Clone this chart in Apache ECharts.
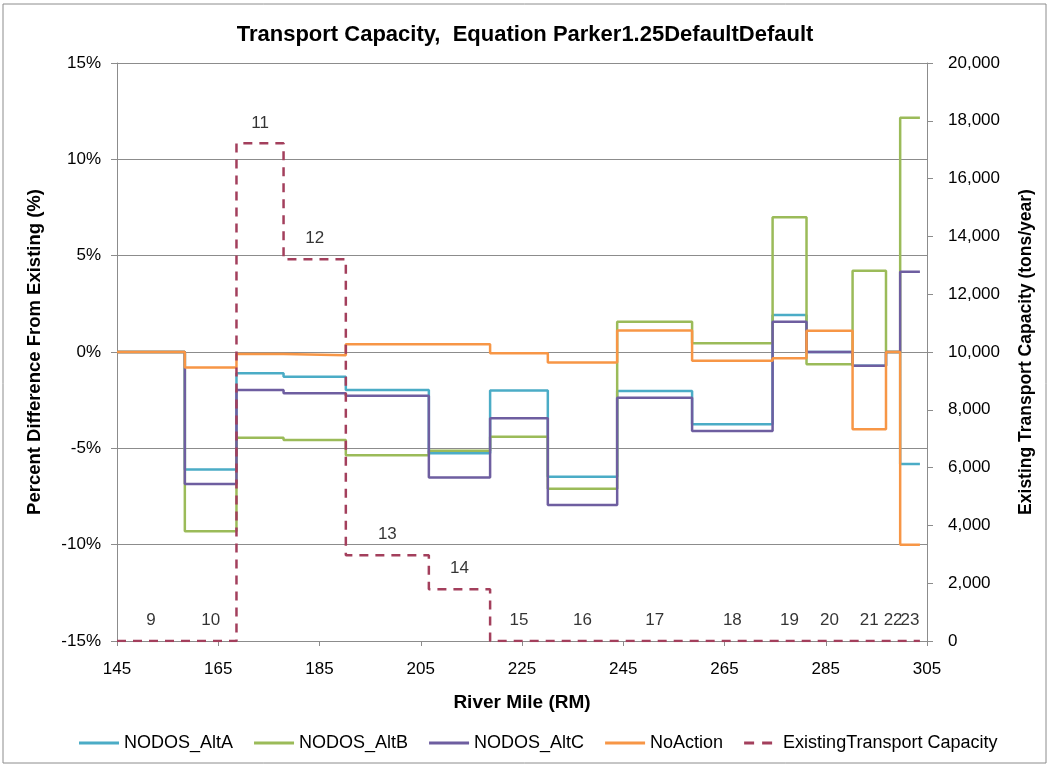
<!DOCTYPE html>
<html>
<head>
<meta charset="utf-8">
<script src="https://cdn.jsdelivr.net/npm/echarts@6/dist/echarts.min.js"></script>
<style>
  html, body { margin: 0; padding: 0; background: #fff; }
  #chart { width: 1050px; height: 766px; }
</style>
</head>
<body>
<div id="chart"></div>
<script>
// segment boundaries along the river (RM), one more than nodes
const boundaries = [145, 158.4, 168.6, 177.9, 190.2, 206.6, 218.7, 230.1, 243.8, 258.6, 274.5, 281.2, 290.3, 296.9, 299.7, 303.6]
const nodes = ['9', '10', '11', '12', '13', '14', '15', '16', '17', '18', '19', '20', '21', '22', '23']

// percent difference from existing, per node
const altA = [0, -6.1, -1.1, -1.28, -1.97, -5.26, -2.0, -6.47, -2.02, -3.75, 1.92, 0, -0.71, 0, -5.81]
const altB = [0, -9.3, -4.45, -4.57, -5.36, -5.12, -4.4, -7.1, 1.57, 0.45, 6.99, -0.64, 4.22, 0, 12.16]
const altC = [0, -6.85, -1.97, -2.14, -2.27, -6.52, -3.44, -7.94, -2.37, -4.1, 1.57, 0, -0.71, 0, 4.17]
const noAction = [0, -0.8, -0.1, -0.17, 0.4, 0.4, -0.07, -0.54, 1.12, -0.45, -0.33, 1.1, -4.01, 0, -10.0]
// existing transport capacity (tons/year)
const capacity = [0, 0, 17220, 13210, 2965, 1790, 0, 0, 0, 0, 0, 0, 0, 0, 0]

const xTicks = [145, 165, 185, 205, 225, 245, 265, 285, 305]

const FONT = "'Liberation Sans', Arial, sans-serif"
const SOLID_ICON = 'path://M0,0h40v3h-40z'
const DASH_ICON = 'path://M4,0h10v3h-10zM22,0h10v3h-10z'

// step series: one point per segment start, plus the last boundary
function steps(vals) {
  const pts = vals.map((v, i) => [boundaries[i], v])
  pts.push([boundaries[boundaries.length - 1], vals[vals.length - 1]])
  return pts
}

function stepLine(name, vals, color, axis, dashed) {
  return {
    name, type: 'line', step: 'end', yAxisIndex: axis || 0,
    data: steps(vals), showSymbol: false, symbol: 'none',
    lineStyle: { color, width: 2.5, type: dashed ? [9, 7] : 'solid' },
    itemStyle: { color },
    animation: false, z: 2
  }
}

const chart = echarts.init(document.getElementById('chart'))
chart.setOption({
  backgroundColor: '#fff',
  textStyle: { fontFamily: FONT },
  title: {
    text: 'Transport Capacity,  Equation Parker1.25DefaultDefault',
    left: 'center', top: 19,
    textStyle: { fontSize: 22, fontWeight: 'bold', color: '#000', fontFamily: FONT }
  },
  graphic: [{
    type: 'rect', silent: true,
    shape: { x: 3, y: 4, width: 1043, height: 759 },
    style: { fill: 'none', stroke: '#8c8c8c', lineWidth: 1 }
  }],
  grid: { left: 117, right: 123, top: 63, bottom: 125 },
  legend: {
    bottom: 9, left: 74, itemWidth: 40, itemHeight: 3, itemGap: 21,
    textStyle: { fontSize: 18, color: '#000', fontFamily: FONT },
    data: [
      { name: 'NODOS_AltA', icon: SOLID_ICON },
      { name: 'NODOS_AltB', icon: SOLID_ICON },
      { name: 'NODOS_AltC', icon: SOLID_ICON },
      { name: 'NoAction', icon: SOLID_ICON },
      { name: 'ExistingTransport Capacity', icon: DASH_ICON }
    ]
  },
  xAxis: {
    type: 'value', min: 145, max: 305,
    name: 'River Mile (RM)', nameLocation: 'middle', nameGap: 52,
    nameTextStyle: { fontSize: 19, fontWeight: 'bold', color: '#000' },
    axisLine: { onZero: false, lineStyle: { color: '#8c8c8c' } },
    axisTick: { show: true, length: 5, customValues: xTicks, lineStyle: { color: '#8c8c8c' } },
    axisLabel: { customValues: xTicks, fontSize: 17, color: '#000', margin: 20 },
    splitLine: { show: false }
  },
  yAxis: [{
    type: 'value', min: -15, max: 15, interval: 5, position: 'left',
    name: 'Percent Difference From Existing (%)', nameLocation: 'middle', nameGap: 73, nameRotate: 90,
    nameTextStyle: { fontSize: 18.5, fontWeight: 'bold', color: '#000' },
    axisLine: { show: true, lineStyle: { color: '#8c8c8c' } },
    axisTick: { show: true, length: 6, lineStyle: { color: '#8c8c8c' } },
    axisLabel: { formatter: '{value}%', fontSize: 17, color: '#000', margin: 16 },
    splitLine: { show: true, lineStyle: { color: '#8c8c8c', width: 1 } }
  }, {
    type: 'value', min: 0, max: 20000, interval: 2000, position: 'right',
    name: 'Existing Transport Capacity (tons/year)', nameLocation: 'middle', nameGap: 90, nameRotate: 90,
    nameTextStyle: { fontSize: 17.5, fontWeight: 'bold', color: '#000' },
    axisLine: { show: true, lineStyle: { color: '#8c8c8c' } },
    axisTick: { show: true, length: 6, lineStyle: { color: '#8c8c8c' } },
    axisLabel: {
      fontSize: 17, color: '#000', margin: 21,
      formatter: v => v.toLocaleString('en-US')
    },
    splitLine: { show: false }
  }],
  series: [
    stepLine('NODOS_AltA', altA, '#4BACC6'),
    stepLine('NODOS_AltB', altB, '#9BBB59'),
    stepLine('NODOS_AltC', altC, '#6E5EA0'),
    stepLine('NoAction', noAction, '#F79646'),
    stepLine('ExistingTransport Capacity', capacity, '#A33F5C', 1, true),
    {
      // node number labels above the capacity steps
      name: 'nodes', type: 'scatter', yAxisIndex: 1, symbolSize: 0, silent: true,
      animation: false,
      data: nodes.map((n, i) => ({ value: [(boundaries[i] + boundaries[i + 1]) / 2, capacity[i]], name: n })),
      label: {
        show: true, position: 'top', distance: 12, formatter: p => p.name,
        fontSize: 17, color: '#000', fontFamily: FONT
      }
    }
  ]
})
</script>
</body>
</html>
